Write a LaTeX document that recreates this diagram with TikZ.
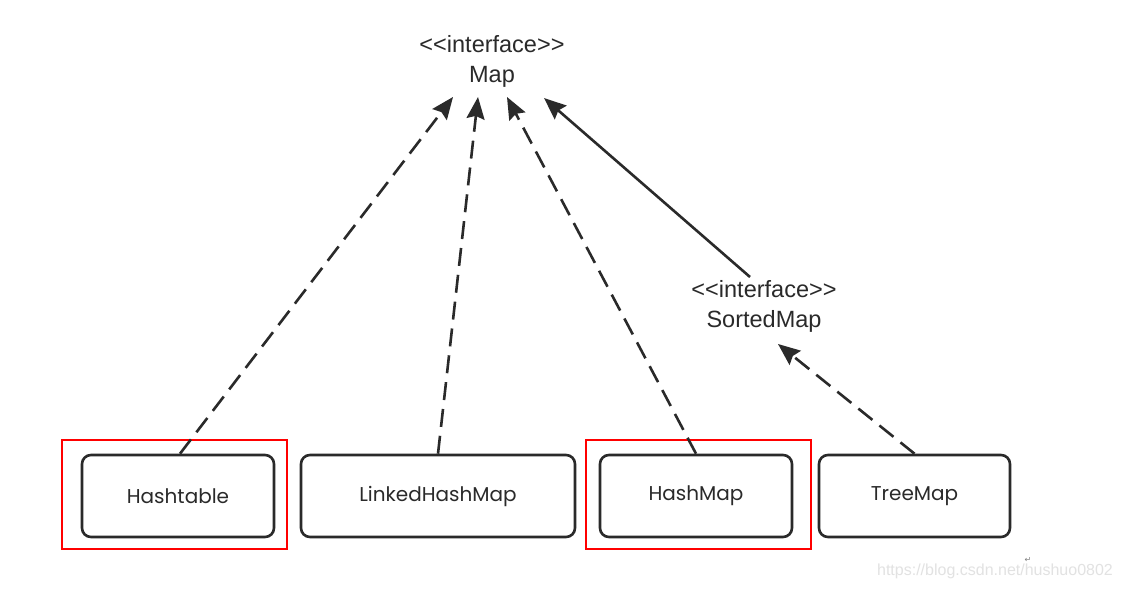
\documentclass[tikz,border=0pt]{standalone}
\usepackage{fontspec}
\setmainfont{Liberation Sans}
\newfontfamily\boxfont{Poppins}
\newfontfamily\symfont{DejaVu Sans}
\usetikzlibrary{arrows.meta,calc}
\definecolor{ink}{HTML}{2A2A2A}
\definecolor{wm}{HTML}{E2E2E2}
\newcommand{\ltlt}{{<}{<}}
\newcommand{\gtgt}{{>}{>}}
\tikzset{
  classbox/.style={draw=ink, line width=2.6pt, rounded corners=9pt, minimum width=#1, minimum height=82pt, inner sep=0pt, font=\boxfont\fontsize{20}{22}\selectfont, text=ink},
  iface/.style={align=center, font=\fontsize{23.5}{30}\selectfont, text=ink, inner sep=0pt},
  hilite/.style={draw=red, line width=2pt, inner sep=0pt},
  realize/.style={draw=ink, line width=2.6pt, dash pattern=on 18pt off 9pt, -{Stealth[length=22pt,width=18pt,inset=3pt]}},
  extend/.style={draw=ink, line width=2.6pt, -{Stealth[length=22pt,width=18pt,inset=3pt]}},
}
\begin{document}
\begin{tikzpicture}[x=1pt,y=-1pt]
\useasboundingbox[fill=white] (0,0) rectangle (1121,589);
% interfaces
\node[iface] (map) at (492,61) {\ltlt interface\gtgt\\Map};
\node[iface] (sorted) at (764,306) {\ltlt interface\gtgt\\SortedMap};
% classes
\node[classbox=192pt] (ht) at (178,496) {Hashtable};
\node[classbox=274pt] (lhm) at (438,496) {LinkedHashMap};
\node[classbox=192pt] (hm) at (696,496) {HashMap};
\node[classbox=191pt] (tm) at (914.5,496) {TreeMap};
% highlight frames
\node[hilite, minimum width=225pt, minimum height=109pt] (r1) at (174.5,494.5) {};
\node[hilite, minimum width=225pt, minimum height=109pt] (r2) at (698.5,494.5) {};
% arrow ends
\coordinate (e1) at (453,97);
\coordinate (e2) at (478,97);
\coordinate (e3) at (507,97);
\coordinate (e4) at (544,98);
\coordinate (e5) at (778,344);
\coordinate (s4) at (750,277);
\draw[realize] ($(ht.north)+(2,0)$) -- (e1);
\draw[realize] (lhm.north) -- (e2);
\draw[realize] (hm.north) -- (e3);
\draw[extend] (s4) -- (e4);
\draw[realize] (tm.north) -- (e5);
% watermark
\node[text=wm, font=\fontsize{16}{18}\selectfont, inner sep=0pt] (wmark) at (995,571) {https://blog.csdn.net/hushuo0802};
\node[text=gray, font=\symfont\fontsize{8}{8}\selectfont, inner sep=0pt] (ret) at (1028,560) {↵};
\end{tikzpicture}
\end{document}
